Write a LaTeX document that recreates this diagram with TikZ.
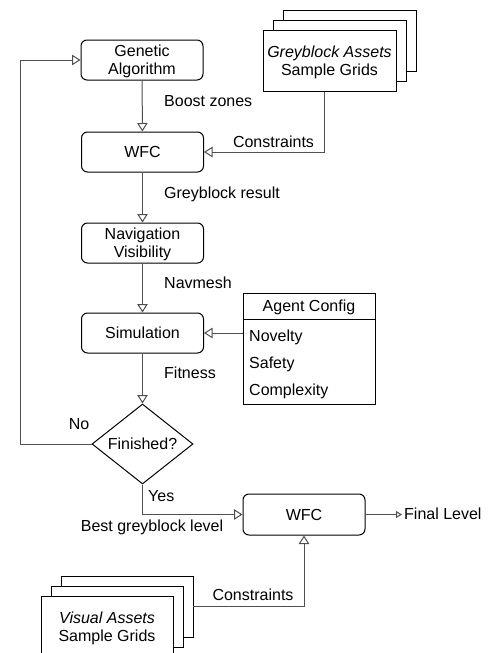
\documentclass[tikz,border=0pt]{standalone}
\usepackage{fontspec}
\setmainfont{Liberation Sans}
\usetikzlibrary{arrows.meta,shapes.geometric}
\definecolor{conncol}{RGB}{80,80,80}
\begin{document}
\begin{tikzpicture}[x=1pt,y=-1pt,
  every node/.style={font=\fontsize{16}{18}\selectfont},
  procbox/.style={draw=black, line width=1pt, rounded corners=6pt, fill=white,
    minimum width=122pt, minimum height=40pt, align=center, inner sep=0pt},
  sheet/.style={draw=black, line width=1pt, fill=white},
  lbl/.style={inner sep=0pt, text height=11.5pt, text depth=0pt},
  twoline/.style={inner sep=0pt, align=center},
  conn/.style={draw=conncol, line width=1pt, -{Triangle[open, length=8.5pt, width=10.5pt]}},
  smallconn/.style={draw=conncol, line width=1pt, -{Triangle[open, length=6pt, width=7pt]}}
]
\useasboundingbox (0,0) rectangle (488,653);
\clip (0,0) rectangle (488,653);

% top stack
\draw[sheet] (283,10) rectangle (416,71);
\draw[sheet] (273,20) rectangle (406,81);
\node[sheet, minimum width=133pt, minimum height=61pt, inner sep=0pt] (gba) at (329.5,60.5) {};
\node[twoline] (gbat) at ([yshift=-2pt]gba.center) {\textit{Greyblock Assets}\\Sample Grids};

% bottom stack
\draw[sheet] (61,576) rectangle (193,637);
\draw[sheet] (51,586) rectangle (183,647);
\node[sheet, minimum width=132pt, minimum height=61pt, inner sep=0pt] (vas) at (107,626.5) {};
\node[twoline] (vast) at (107,628) {\textit{Visual Assets}\\Sample Grids};
\coordinate (vaout) at (193,606);

% main boxes
\node[procbox] (ga) at (142,60) {};
\node[twoline] (gat) at ([yshift=-1.5pt]ga.center) {Genetic\\Algorithm};
\node[procbox] (wfc1) at (142.5,152) {WFC};
\node[procbox] (nav) at (142.5,243) {};
\node[twoline] (navt) at ([yshift=-1.5pt]nav.center) {Navigation\\Visibility};
\node[procbox] (sim) at (142.5,333) {Simulation};
\node[draw=black, line width=1pt, shape=diamond, aspect=1.26, inner sep=0pt,
  minimum width=101pt, minimum height=80pt] (fin) at (142.5,444) {Finished?};
\node[procbox, minimum height=41pt] (wfc2) at (304,514.5) {WFC};

% agent config
\node[draw=black, line width=1pt, minimum width=132pt, minimum height=111pt, inner sep=0pt] (agent) at (309,348.5) {};
\draw[black, line width=1pt] (243,319) -- (375,319);
\node[lbl] (agtitle) at (309,306) {Agent Config};
\node[lbl, anchor=west] (nov) at (249,336) {Novelty};
\node[lbl, anchor=west] (saf) at (249,363) {Safety};
\node[lbl, anchor=west] (cpx) at (249,390) {Complexity};

% connectors
\draw[conn] (ga) -- (wfc1);
\draw[conn] (wfc1) -- (nav);
\draw[conn] (nav) -- (sim);
\draw[conn] (sim) -- (fin);
\draw[conn] ([xshift=-5.5pt]gba.south) |- (wfc1.east);
\draw[conn] (agent.west |- sim.east) -- (sim.east);
\draw[conn] (fin.west) -- (20,444) |- (ga.west);
\draw[conn] (fin.south) |- (wfc2.west);
\draw[conn] (vaout) -| (wfc2.south);
\coordinate (flend) at (402,514.5);
\draw[smallconn] (wfc2.east) -- (flend);

% labels
\node[lbl, anchor=west] (l1) at (164,101) {Boost zones};
\node[lbl, anchor=west] (l2) at (164,193) {Greyblock result};
\node[lbl, anchor=west] (l3) at (164,283) {Navmesh};
\node[lbl, anchor=west] (l4) at (164,373) {Fitness};
\node[lbl] (l5) at (273.5,142) {Constraints};
\node[lbl] (l6) at (79,424) {No};
\node[lbl, anchor=west] (l7) at (148,496) {Yes};
\node[lbl] (l8) at (152,526) {Best greyblock level};
\node[lbl, anchor=west] (l9) at (404,514) {Final Level};
\node[lbl] (l10) at (253,595) {Constraints};
\end{tikzpicture}
\end{document}
